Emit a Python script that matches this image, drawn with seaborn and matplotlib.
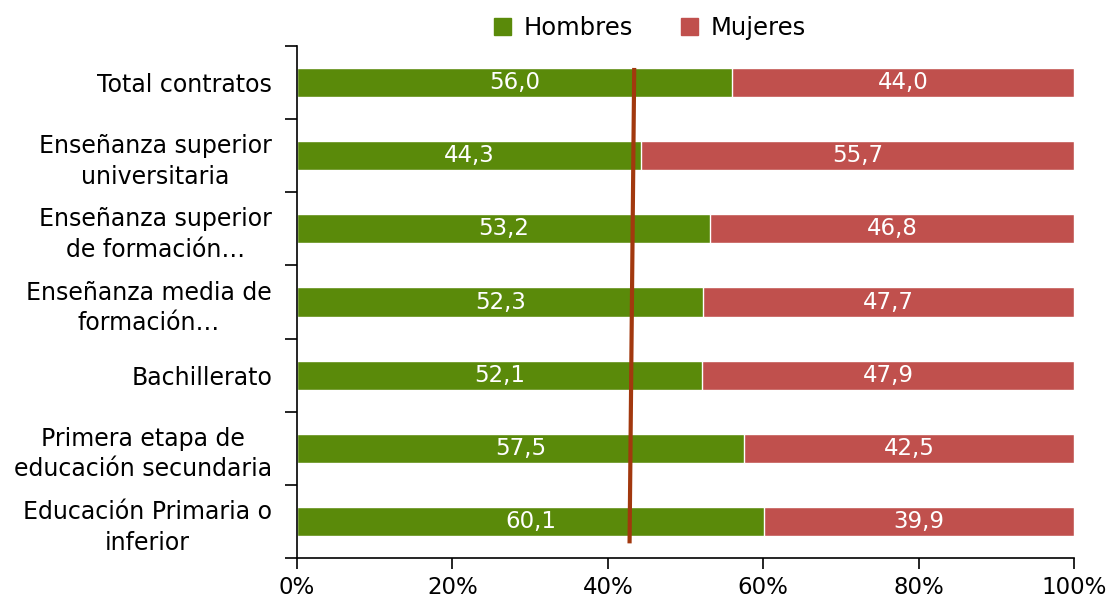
import matplotlib
matplotlib.use("Agg")
import matplotlib.pyplot as plt
import seaborn as sns
import pandas as pd
import numpy as np
from matplotlib.patches import Patch

categories = [
    "Total contratos",
    "Enseñanza superior\nuniversitaria",
    "Enseñanza superior\nde formación…",
    "Enseñanza media de\nformación…",
    "Bachillerato",
    "Primera etapa de\neducación secundaria",
    "Educación Primaria o\ninferior",
]
hombres = [56.0, 44.3, 53.2, 52.3, 52.1, 57.5, 60.1]
mujeres = [44.0, 55.7, 46.8, 47.7, 47.9, 42.5, 39.9]
ref_line_x = [43.4, 42.8]
ref_line_y = [-0.2, 6.3]
xticks = [0, 20, 40, 60, 80, 100]
xtick_labels = ["0%", "20%", "40%", "60%", "80%", "100%"]

GREEN = "#5A8A0A"
RED = "#C0504D"
LINE = "#A2380E"

sns.set_theme(style="white")
plt.rcParams["font.family"] = ["DejaVu Sans"]
plt.rcParams["text.color"] = "black"

df = pd.DataFrame({
    "cat": categories,
    "Hombres": hombres,
    "Mujeres": mujeres,
})
df["total"] = df["Hombres"] + df["Mujeres"]

fig = plt.figure(figsize=(11.1, 6.01), dpi=100)
ax = fig.add_axes([297 / 1110, 1 - 558 / 601, (1074 - 297) / 1110, (558 - 46) / 601])

sns.barplot(data=df, y="cat", x="total", color=RED, orient="h", width=0.4,
            ax=ax, saturation=1, order=categories)
sns.barplot(data=df, y="cat", x="Hombres", color=GREEN, orient="h", width=0.4,
            ax=ax, saturation=1, order=categories)

fs_lab = 16.5
for i, (h, m) in enumerate(zip(hombres, mujeres)):
    ax.text(h / 2, i, f"{h:.1f}".replace(".", ","), ha="center", va="center",
            color="white", fontsize=fs_lab)
    ax.text(h + m / 2, i, f"{m:.1f}".replace(".", ","), ha="center", va="center",
            color="white", fontsize=fs_lab)

ax.plot(ref_line_x, ref_line_y, color=LINE, linewidth=3, solid_capstyle="butt", zorder=5)

ax.set_xlim(0, 100)
ax.set_ylim(6.5, -0.5)
ax.set_xticks(xticks)
ax.set_xticklabels(xtick_labels, fontsize=16.5)
ax.set_yticks(range(len(categories)))
ax.set_yticklabels(categories, fontsize=17, multialignment="center", linespacing=1.35)
ax.set_yticks(np.arange(-0.5, len(categories), 1), minor=True)
ax.tick_params(axis="y", which="major", left=False, length=0, pad=18, labelcolor="black")
ax.tick_params(axis="y", which="minor", left=True, length=9, width=1.2, color="black", direction="out")
ax.tick_params(axis="x", which="major", bottom=True, length=8, width=1.2, color="black",
               direction="out", pad=5, labelcolor="black")
ax.set_xlabel("")
ax.set_ylabel("")
for s in ["top", "right"]:
    ax.spines[s].set_visible(False)
for s in ["left", "bottom"]:
    ax.spines[s].set_color("black")
    ax.spines[s].set_linewidth(1.2)

handles = [Patch(color=GREEN, label="Hombres"), Patch(color=RED, label="Mujeres")]
if ax.get_legend() is not None:
    ax.get_legend().remove()
fig.legend(handles=handles, loc="center", bbox_to_anchor=(650 / 1110, 1 - 28 / 601),
           ncol=2, frameon=False, fontsize=17.5, handlelength=0.7, handleheight=0.7,
           columnspacing=2.0, handletextpad=0.5)

fig.savefig("out.png", dpi=100)
